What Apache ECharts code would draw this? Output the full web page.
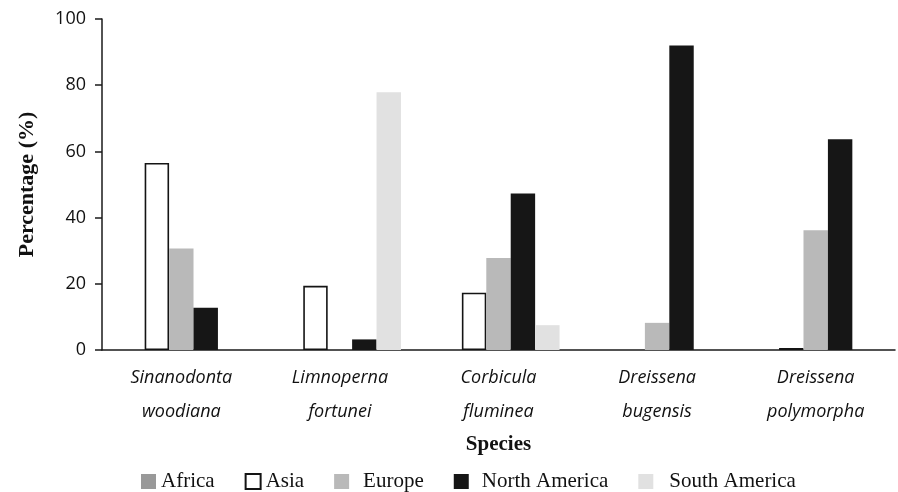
<!DOCTYPE html>
<html>
<head>
<meta charset="utf-8">
<script src="https://cdn.jsdelivr.net/npm/echarts@6/dist/echarts.min.js"></script>
<style>
  html, body { margin: 0; padding: 0; background: #fff; }
  #chart { width: 898px; height: 492px; }
</style>
</head>
<body>
<div id="chart"></div>
<script>
const species = [
  'Sinanodonta\nwoodiana',
  'Limnoperna\nfortunei',
  'Corbicula\nfluminea',
  'Dreissena\nbugensis',
  'Dreissena\npolymorpha'
]
const regions = ['Africa', 'Asia', 'Europe', 'North America', 'South America']

// null = no bar drawn for that region
const africa = [null, null, null, null, null]
const asia = [56.5, 19.4, 17.3, null, 0.6]
const europe = [30.7, null, 27.8, 8.2, 36.2]
const northAmerica = [12.8, 3.2, 47.3, 92.0, 63.7]
const southAmerica = [null, 77.9, 7.5, null, null]

const yTicks = { min: 0, max: 100, interval: 20 }

const chart = echarts.init(document.getElementById('chart'), null, { renderer: 'canvas' })

const serif = '"Liberation Serif", "DejaVu Serif", serif'
const sans = '"Open Sans", Lato, sans-serif'

function bar(name, data, fill, border) {
  return {
    name,
    type: 'bar',
    data,
    barGap: '0%',
    barCategoryGap: '23%',
    itemStyle: border
      ? { color: '#ffffff', borderColor: border, borderWidth: 1.6 }
      : { color: fill },
    emphasis: { disabled: true }
  }
}

chart.setOption({
  animation: false,
  grid: {
    left: 102,
    right: 3,
    top: 19,
    bottom: 142,
    containLabel: false,
    outerBoundsMode: 'none'
  },
  legend: {
    left: 136,
    top: 466,
    icon: 'rect',
    itemWidth: 15,
    itemHeight: 15,
    itemGap: 30,
    textStyle: { fontFamily: serif, fontSize: 21, color: '#111' },
    data: [
      { name: regions[0] },
      { name: regions[1] },
      { name: regions[2], textStyle: { padding: [0, 0, 0, 9] } },
      { name: regions[3], textStyle: { padding: [0, 0, 0, 8] } },
      { name: regions[4], textStyle: { padding: [0, 0, 0, 11] } }
    ]
  },
  xAxis: {
    type: 'category',
    data: species,
    name: 'Species',
    nameLocation: 'middle',
    nameGap: 80,
    nameTextStyle: { fontFamily: serif, fontSize: 21, fontWeight: 'bold', color: '#111' },
    axisLine: { lineStyle: { color: '#1a1a1a', width: 1.5 } },
    axisTick: { length: 7, lineStyle: { color: '#1a1a1a', width: 1.5 } },
    axisLabel: {
      interval: 0,
      margin: 11,
      fontFamily: sans,
      fontStyle: 'italic',
      fontSize: 18,
      lineHeight: 34,
      color: '#111'
    }
  },
  yAxis: {
    type: 'value',
    min: yTicks.min,
    max: yTicks.max,
    interval: yTicks.interval,
    name: 'Percentage (%)',
    nameLocation: 'middle',
    nameGap: 64,
    nameTextStyle: { fontFamily: serif, fontSize: 22, fontWeight: 'bold', color: '#111' },
    axisLine: { show: true, lineStyle: { color: '#1a1a1a', width: 1.5 } },
    axisTick: { show: true, length: 7, lineStyle: { color: '#1a1a1a', width: 1.5 } },
    axisLabel: { margin: 16, fontFamily: sans, fontSize: 18, color: '#111' },
    splitLine: { show: false }
  },
  series: [
    bar(regions[0], africa, '#999999'),
    bar(regions[1], asia, null, '#141414'),
    bar(regions[2], europe, '#b9b9b9'),
    bar(regions[3], northAmerica, '#161616'),
    bar(regions[4], southAmerica, '#e1e1e1')
  ]
})
</script>
</body>
</html>
